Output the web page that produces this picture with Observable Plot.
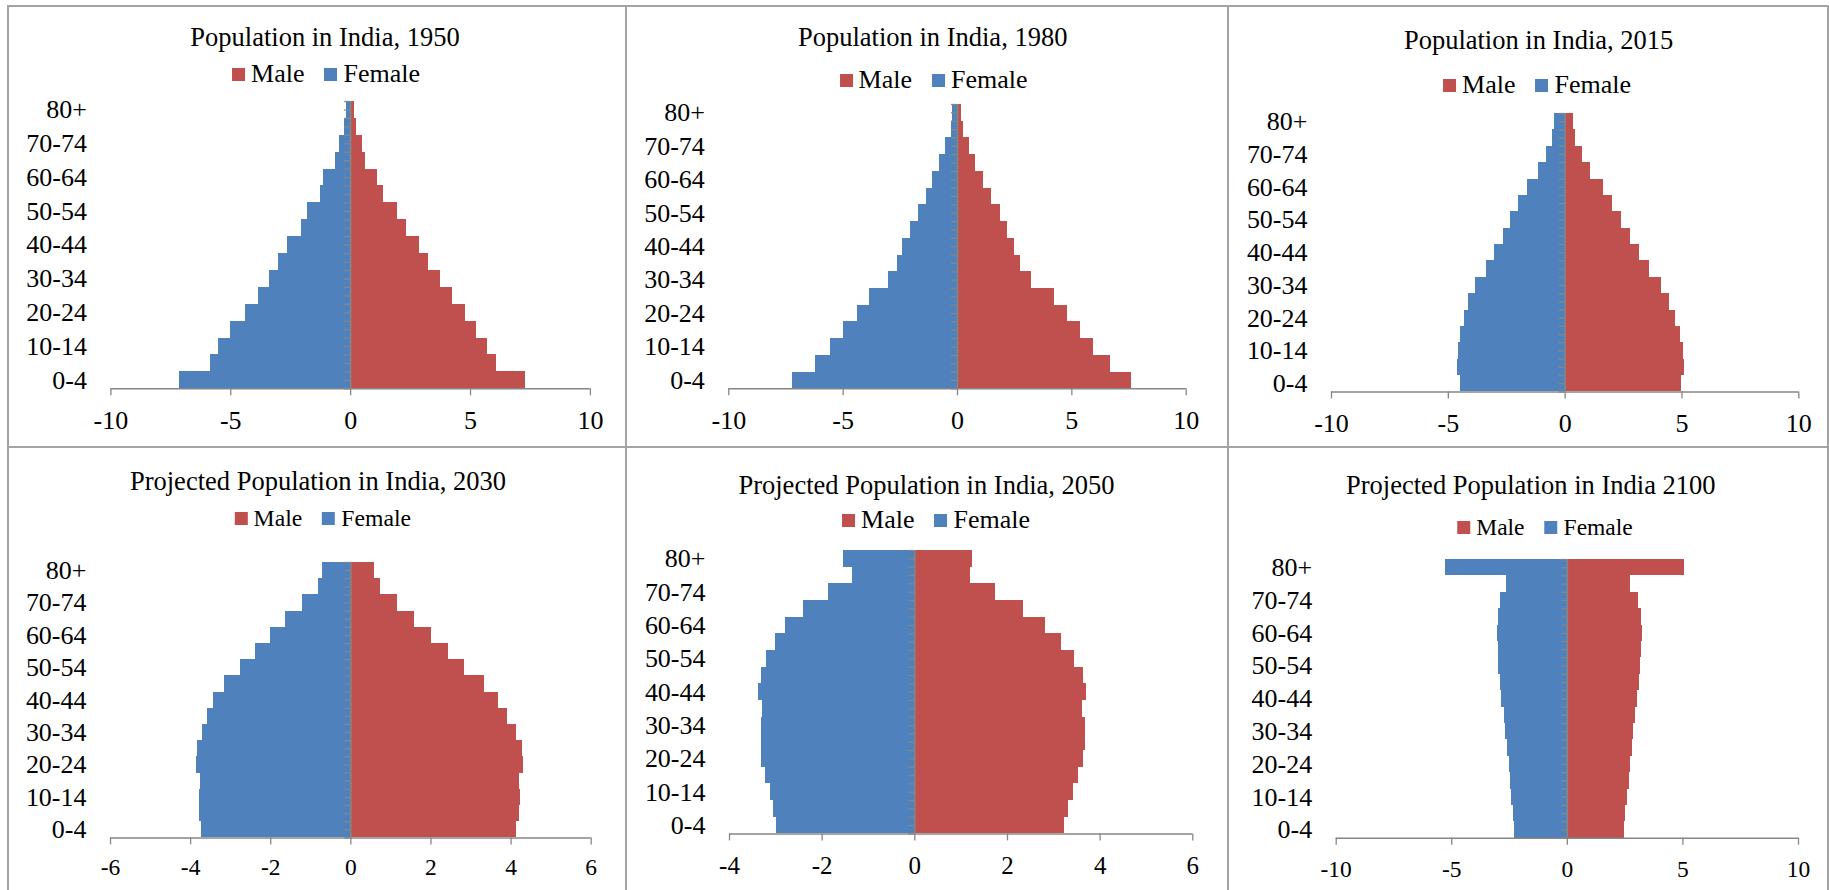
<!DOCTYPE html>
<html>
<head>
<meta charset="utf-8">
<script src="https://cdn.jsdelivr.net/npm/d3@7"></script>
<script src="https://cdn.jsdelivr.net/npm/@observablehq/plot@0.6"></script>
<style>
  html, body { margin: 0; padding: 0; background: #fff; overflow: hidden; }
  #page { position: relative; width: 1829px; height: 890px; overflow: hidden;
          font-family: "Liberation Serif", "Times New Roman", serif; color: #000; }
  .rule { position: absolute; background: #a3a3a3; }
  .title, .legend { position: absolute; line-height: 1; white-space: nowrap; transform: translateX(-50%); }
  .legend .key { display: inline-block; }
  .legend .key + .key { margin-left: 20px; }
  .legend .swatch { display: inline-block; width: 13px; height: 13px; margin-right: 6px; vertical-align: 1.5px; }
  .chart { position: absolute; }
</style>
</head>
<body>
<div id="page"></div>
<script>
// Age groups, youngest first
const ages = ["0-4", "5-9", "10-14", "15-19", "20-24", "25-29", "30-34", "35-39", "40-44",
              "45-49", "50-54", "55-59", "60-64", "65-69", "70-74", "75-79", "80+"];

// Share of population (%) per age group; females plotted to the left as negatives
const male1950   = [7.29, 6.08, 5.69, 5.23, 4.78, 4.24, 3.76, 3.26, 2.86, 2.33, 1.97, 1.39, 1.13, 0.64, 0.49, 0.26, 0.17];
const female1950 = [-7.14, -5.85, -5.53, -5.00, -4.39, -3.86, -3.40, -3.00, -2.62, -2.06, -1.81, -1.25, -1.13, -0.63, -0.46, -0.24, -0.17];

const male1980   = [7.62, 6.69, 5.96, 5.38, 4.80, 4.24, 3.22, 2.77, 2.51, 2.19, 1.87, 1.50, 1.15, 0.80, 0.52, 0.26, 0.16];
const female1980 = [-7.22, -6.22, -5.54, -4.97, -4.39, -3.83, -3.02, -2.61, -2.39, -2.06, -1.69, -1.36, -1.08, -0.77, -0.52, -0.28, -0.22];

const male2015   = [4.96, 5.09, 5.08, 4.95, 4.72, 4.47, 4.11, 3.59, 3.18, 2.78, 2.43, 2.04, 1.64, 1.07, 0.73, 0.46, 0.36];
const female2015 = [-4.48, -4.61, -4.58, -4.47, -4.31, -4.14, -3.84, -3.38, -3.02, -2.65, -2.34, -1.98, -1.63, -1.14, -0.80, -0.54, -0.47];

const male2030   = [4.13, 4.20, 4.23, 4.20, 4.32, 4.28, 4.13, 3.92, 3.68, 3.34, 2.84, 2.44, 2.01, 1.59, 1.16, 0.75, 0.59];
const female2030 = [-3.74, -3.78, -3.79, -3.76, -3.85, -3.83, -3.71, -3.57, -3.43, -3.15, -2.75, -2.39, -2.01, -1.63, -1.21, -0.81, -0.71];

const male2050   = [3.24, 3.32, 3.42, 3.54, 3.65, 3.68, 3.69, 3.63, 3.71, 3.64, 3.44, 3.16, 2.81, 2.34, 1.75, 1.21, 1.25];
const female2050 = [-2.98, -3.05, -3.12, -3.23, -3.30, -3.32, -3.32, -3.29, -3.37, -3.32, -3.20, -3.01, -2.80, -2.41, -1.86, -1.35, -1.55];

const male2100   = [2.47, 2.52, 2.60, 2.67, 2.74, 2.80, 2.87, 2.94, 3.04, 3.11, 3.17, 3.20, 3.23, 3.20, 3.07, 2.75, 5.09];
const female2100 = [-2.29, -2.35, -2.41, -2.47, -2.52, -2.58, -2.67, -2.74, -2.83, -2.90, -2.96, -2.98, -3.03, -3.00, -2.90, -2.65, -5.26];

// Axis ticks
const ticksTen  = [-10, -5, 0, 5, 10];
const ticks2030 = [-6, -4, -2, 0, 2, 4, 6];
const ticks2050 = [-4, -2, 0, 2, 4, 6];

const titles = [
  "Population in India, 1950",
  "Population in India, 1980",
  "Population in India, 2015",
  "Projected Population in India, 2030",
  "Projected Population in India, 2050",
  "Projected Population in India 2100"
];
const seriesNames = ["Male", "Female"];

const panels = [
  {title: titles[0], male: male1950, female: female1950, ticks: ticksTen},
  {title: titles[1], male: male1980, female: female1980, ticks: ticksTen},
  {title: titles[2], male: male2015, female: female2015, ticks: ticksTen},
  {title: titles[3], male: male2030, female: female2030, ticks: ticks2030},
  {title: titles[4], male: male2050, female: female2050, ticks: ticks2050},
  {title: titles[5], male: male2100, female: female2100, ticks: ticksTen}
];

// Page placement of each panel (px)
const layouts = [
  {x: 8,    w: 618, plotL: 110.4,  plotR: 589.9,  plotT: 101,   plotB: 388.3, titleX: 325,    titleY: 46,  legendX: 326,   legendY: 83,  legendFont: 26,   tickFont: 26,   tickGap: 40},
  {x: 627,  w: 601, plotL: 728.3,  plotR: 1185.7, plotT: 104,   plotB: 388.3, titleX: 932.7,  titleY: 46,  legendX: 933.5, legendY: 89,  legendFont: 26,   tickFont: 26,   tickGap: 40},
  {x: 1229, w: 598, plotL: 1331,   plotR: 1798.3, plotT: 113.3, plotB: 391.7, titleX: 1538.6, titleY: 49,  legendX: 1537,  legendY: 94,  legendFont: 26,   tickFont: 26,   tickGap: 40.5},
  {x: 8,    w: 618, plotL: 110,    plotR: 590.7,  plotT: 562.3, plotB: 837.7, titleX: 318,    titleY: 490, legendX: 322.8, legendY: 527, legendFont: 23.7, tickFont: 23.5, tickGap: 37.5},
  {x: 627,  w: 601, plotL: 729,    plotR: 1192.3, plotT: 550.3, plotB: 833.7, titleX: 926.5,  titleY: 494, legendX: 936,   legendY: 529, legendFont: 26,   tickFont: 25,   tickGap: 40.3},
  {x: 1229, w: 598, plotL: 1335.7, plotR: 1798,   plotT: 559,   plotB: 837.7, titleX: 1530.8, titleY: 494, legendX: 1545,  legendY: 536, legendFont: 23.5, tickFont: 23.5, tickGap: 39}
];

const RED = "#C0504D", BLUE = "#4F81BD", AXIS = "#868686";
const colors = [RED, BLUE];
const ASCENT = 0.8375; // baseline offset of Liberation Serif with line-height 1

const page = document.getElementById("page");

// table frame around the six charts
[[7, 6, 2, 884], [625, 6, 2, 884], [1227, 6, 2, 884], [1827, 6, 2, 884],
 [7, 5, 1822, 2], [7, 446, 1822, 2]].forEach(([l, t, w, h]) => {
  const d = document.createElement("div");
  d.className = "rule";
  Object.assign(d.style, {left: l + "px", top: t + "px", width: w + "px", height: h + "px"});
  page.appendChild(d);
});

function pyramid(panel, lay) {
  const top = lay.plotT - 12;
  const height = lay.plotB - top + 60;
  const rows = ages.map((age, i) => ({age, i, male: panel.male[i], female: panel.female[i]}));
  // tick marks on the zero axis at every band edge and band middle
  const axisSteps = d3.range(0, ages.length * 2 + 1).map(k => k / 2);
  const labelled = ages.map((_, i) => i).filter(i => i % 2 === 0).map(i => i + 0.5);
  const tickSize = 7;
  const svg = Plot.plot({
    width: lay.w,
    height,
    marginLeft: lay.plotL - lay.x,
    marginRight: lay.x + lay.w - lay.plotR,
    marginTop: lay.plotT - top,
    marginBottom: height - (lay.plotB - top),
    style: {fontFamily: "'Liberation Serif', 'Times New Roman', serif", fontSize: lay.tickFont + "px",
            color: "#000", background: "transparent", overflow: "visible"},
    x: {domain: [panel.ticks[0], panel.ticks[panel.ticks.length - 1]], label: null},
    y: {domain: [0, ages.length], label: null},
    marks: [
      Plot.rect(rows, {x1: 0, x2: "male", y1: "i", y2: d => d.i + 1, fill: RED, shapeRendering: "crispEdges"}),
      Plot.rect(rows, {x1: 0, x2: "female", y1: "i", y2: d => d.i + 1, fill: BLUE, shapeRendering: "crispEdges"}),
      Plot.ruleX([0], {stroke: AXIS, strokeWidth: 1.5}),
      Plot.ruleY(axisSteps, {y: d => d, x1: 0, x2: 0, insetLeft: -6, stroke: AXIS, strokeWidth: 1.3}),
      Plot.ruleY([0], {stroke: AXIS, strokeWidth: 1.5}),
      Plot.axisX({ticks: panel.ticks, tickFormat: d => String(d), tickSize, label: null,
                  tickPadding: lay.tickGap - tickSize - 0.71 * lay.tickFont,
                  stroke: AXIS, strokeWidth: 1.3, fill: "#000"}),
      Plot.axisY({ticks: labelled, tickFormat: t => ages[Math.floor(t)], tickSize: 0, tickPadding: 24,
                  label: null, fill: "#000", fontSize: 26})
    ]
  });
  const wrap = document.createElement("div");
  wrap.className = "chart";
  wrap.style.left = lay.x + "px";
  wrap.style.top = top + "px";
  wrap.appendChild(svg);
  page.appendChild(wrap);
}

panels.forEach((panel, k) => {
  const lay = layouts[k];
  pyramid(panel, lay);

  const title = document.createElement("div");
  title.className = "title";
  title.textContent = panel.title;
  title.style.fontSize = "26.5px";
  title.style.left = lay.titleX + "px";
  title.style.top = (lay.titleY - ASCENT * 26.5) + "px";
  page.appendChild(title);

  const legend = document.createElement("div");
  legend.className = "legend";
  legend.style.fontSize = lay.legendFont + "px";
  legend.style.left = lay.legendX + "px";
  legend.style.top = (lay.legendY - ASCENT * lay.legendFont) + "px";
  seriesNames.forEach((name, j) => {
    const key = document.createElement("span");
    key.className = "key";
    const sw = document.createElement("span");
    sw.className = "swatch";
    sw.style.background = colors[j];
    key.appendChild(sw);
    key.appendChild(document.createTextNode(name));
    legend.appendChild(key);
  });
  page.appendChild(legend);
});
</script>
</body>
</html>
